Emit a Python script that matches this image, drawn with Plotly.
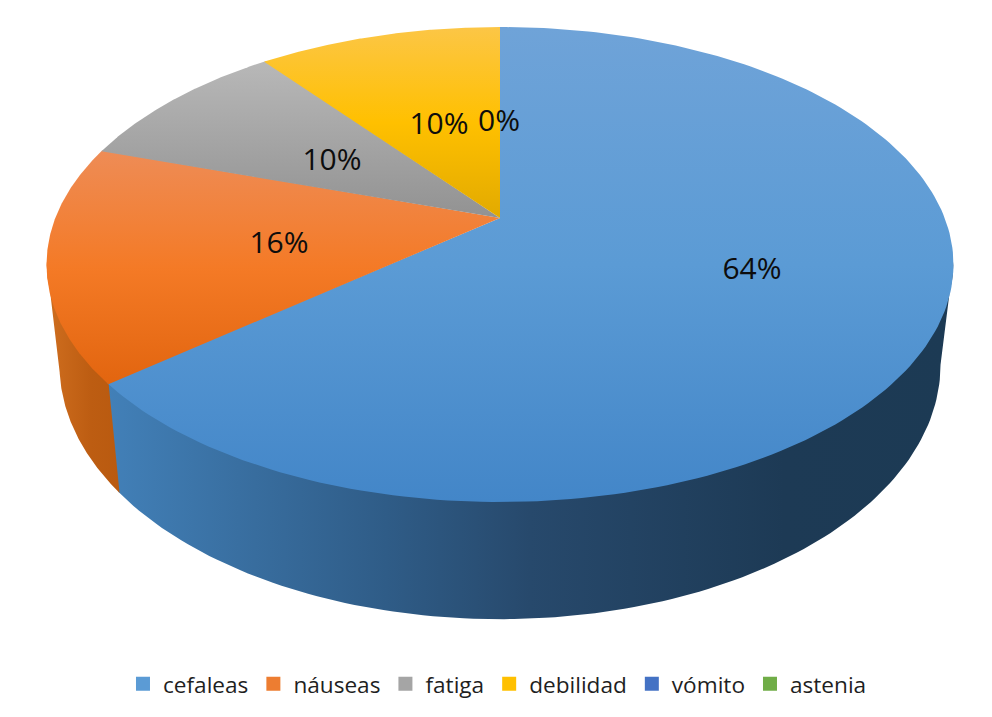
import numpy as np
import plotly.graph_objects as go

# data
categories = ['cefaleas', 'náuseas', 'fatiga', 'debilidad', 'vómito', 'astenia']
values = [64, 16, 9.5, 10.49, 0, 0]
colors = ['#5b9bd5', '#ed7d31', '#a5a5a5', '#ffc000', '#4472c4', '#70ad47']
top_scales = {
    'cefaleas': ['#6fa3d8', '#5b9bd5', '#4386c8'],
    'náuseas': ['#ee8c56', '#f47a26', '#e2650f'],
    'fatiga': ['#b8b8b8', '#a5a5a5', '#929292'],
    'debilidad': ['#fcc646', '#ffc000', '#e2aa00'],
}
wall_scales = {
    'cefaleas': [[0, '#4280b8'], [0.33, '#2f5c87'], [0.5, '#27496c'], [0.8, '#1d3a55'], [1, '#1c3a54']],
    'náuseas': [[0, '#cf6e1f'], [0.6, '#bd5d12'], [1, '#b95a10']],
}
# label spots as drawn in the chart
label_x = [752, 279, 332, 439, 499]
label_y = [271, 245, 162, 126, 123]

# perspective of the tilted disc, in page pixels
K = 0.1958
TOP = dict(x0=500, y0=218, ax=444.7, ay=228.4)
BOTTOM = dict(x0=500, y0=315, ax=432, ay=244.6)
OVERLAP = 0.004  # radians, hides the white seam between neighbours


def project(theta, disc):
    u, v = np.sin(theta), np.cos(theta)
    d = 1 + K * v
    return disc['x0'] + disc['ax'] * u / d, disc['y0'] - disc['ay'] * v / d


def scale3(cols):
    return [[i / (len(cols) - 1), c] for i, c in enumerate(cols)]


fractions = np.array(values) / sum(values)
ends = np.cumsum(fractions) * 2 * np.pi
starts = ends - fractions * 2 * np.pi
# the side wall is only seen between the two tangent points of the disc
wall_from, wall_to = np.arccos(-K), 2 * np.pi - np.arccos(-K)

fig = go.Figure()

for name, a, b in zip(categories, starts, ends):
    lo, hi = max(a, wall_from), min(b + OVERLAP, wall_to)
    if name not in wall_scales or hi <= lo:
        continue
    t = np.linspace(lo, hi, 120)
    x1, y1 = project(t, TOP)
    x2, y2 = project(t[::-1], BOTTOM)
    fig.add_trace(go.Scatter(
        x=np.r_[x1, x2], y=np.r_[y1 - 3, y2], mode='lines', line_width=0,
        fill='toself', showlegend=False, hoverinfo='skip',
        fillgradient=dict(type='horizontal', colorscale=wall_scales[name]),
    ))

for i, (name, a, b) in enumerate(zip(categories, starts, ends)):
    if b <= a:
        continue
    t0 = a - OVERLAP if i == 0 else a
    t1 = b + OVERLAP if b < ends[-1] - 1e-9 else b
    x, y = project(np.linspace(t0, t1, 200), TOP)
    xs, ys = np.r_[TOP['x0'], x], np.r_[TOP['y0'], y]
    fig.add_trace(go.Scatter(
        x=xs, y=ys, mode='lines', line_width=0,
        fill='toself', showlegend=False, hoverinfo='skip',
        fillgradient=dict(type='vertical', colorscale=scale3(top_scales[name]),
                          start=ys.min(), stop=ys.max()),
    ))

for name, col in zip(categories, colors):
    fig.add_trace(go.Scatter(
        x=[None], y=[None], mode='markers', name=name,
        marker=dict(symbol='square', size=14, color=col),
    ))

labels = [f'{v:.0f}%' for v in values[:5]]
fig.add_trace(go.Scatter(
    x=label_x, y=label_y, mode='text', text=labels, showlegend=False, hoverinfo='skip',
    textfont=dict(family='Open Sans', size=30, color='#0d0d0d'),
))

fig.update_layout(
    width=992, height=717,
    margin=dict(l=0, r=0, t=0, b=0),
    paper_bgcolor='white', plot_bgcolor='white',
    xaxis=dict(range=[0, 992], visible=False, fixedrange=True),
    yaxis=dict(range=[717, 0], visible=False, fixedrange=True),
    legend=dict(orientation='h', x=0.5015, xanchor='center', y=0.016, yanchor='bottom',
                font=dict(family='Open Sans', size=22.6, color='#1f1f1f'),
                traceorder='normal', bgcolor='rgba(0,0,0,0)'),
)

fig.write_html('out.html', config={'displayModeBar': False},
               post_script="document.body.style.margin='0';")
